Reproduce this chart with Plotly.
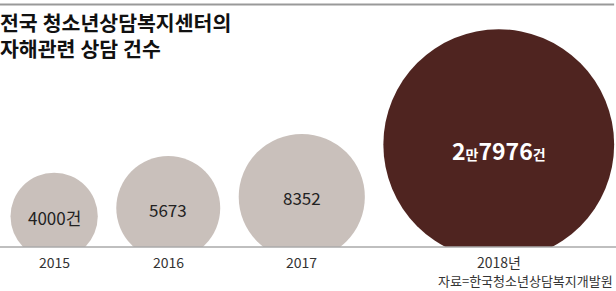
import numpy as np
import plotly.graph_objects as go

# ---- data ----
years = ["2015", "2016", "2017", "2018년"]
counts = [4000, 5673, 8352, 27976]
labels = ["4000건", "5673", "8352", "2<span style='font-size:14px'>만</span>7976<span style='font-size:14px'>건</span>"]
title_lines = ["전국 청소년상담복지센터의", "자해관련 상담 건수"]
source = "자료=한국청소년상담복지개발원"

# ---- layout constants ----
W, H = 616, 291
PLOT_H = 247          # plot area height (baseline position in px)
K = 0.69              # radius = K * sqrt(value) (area-proportional)
GAP = 18.5
LEFT = 10.5
SINK = 13             # circles sink below the baseline by this many px
FONT = "Noto Sans CJK KR"
TITLE_FONT = "Lato, Noto Sans CJK KR"
LIGHT = "#c9c0bb"
DARK = "#4f2420"

radii = [K * np.sqrt(v) for v in counts]
xs = []
for i, r in enumerate(radii):
    if i == 0:
        xs.append(LEFT + r)
    else:
        xs.append(xs[-1] + radii[i - 1] + GAP + r)
ys = [r - SINK for r in radii]  # y axis in px above baseline
colors = [LIGHT, LIGHT, LIGHT, DARK]


def py(p):
    """pixel from top -> paper y of the plot area"""
    return (PLOT_H - p) / PLOT_H


fig = go.Figure()
fig.add_trace(go.Scatter(
    x=xs, y=ys, mode="markers",
    marker=dict(size=[2 * r for r in radii], sizemode="diameter",
                color=colors, opacity=1, line=dict(width=0)),
    cliponaxis=True, hoverinfo="skip", showlegend=False,
))

annotations = []
# value labels
for i, (x, y, lab) in enumerate(zip(xs, ys, labels)):
    last = i == len(xs) - 1
    annotations.append(dict(
        x=x, y=y, xref="x", yref="y", text=lab, showarrow=False,
        xanchor="center", yanchor="middle",
        yshift=-5 if last else -1,
        font=dict(family=FONT, size=23 if last else 17,
                  color="#ffffff" if last else "#222222",
                  weight="bold" if last else "normal"),
    ))
# year labels
for x, yr in zip(xs, years):
    annotations.append(dict(
        x=x, y=py(262), xref="x", yref="paper", text=yr, showarrow=False,
        xanchor="center", yanchor="middle", borderpad=0,
        font=dict(family=FONT, size=14, color="#333333"),
    ))
# title lines
for i, t in enumerate(title_lines):
    annotations.append(dict(
        x=0, y=py(23.5 + i * 25.5), xref="paper", yref="paper", text=t,
        showarrow=False, xanchor="left", yanchor="middle", xshift=-1, borderpad=0,
        font=dict(family=TITLE_FONT, size=20.5, color="#111111", weight="bold"),
    ))
# source
annotations.append(dict(
    x=1, y=py(280), xref="paper", yref="paper", text=source, showarrow=False,
    xanchor="right", yanchor="middle", xshift=-2, borderpad=0,
    font=dict(family=FONT, size=13, color="#333333"),
))

shapes = [
    dict(type="line", xref="paper", yref="paper", x0=0, x1=1, y0=0, y1=0,
         line=dict(color="#aaaaaa", width=1.5), layer="above"),
    dict(type="line", xref="paper", yref="paper", x0=0, x1=0.997, y0=py(4.5), y1=py(4.5),
         line=dict(color="#999999", width=2)),
]

fig.update_layout(
    width=W, height=H,
    margin=dict(l=0, r=0, t=0, b=H - PLOT_H),
    paper_bgcolor="white", plot_bgcolor="white",
    xaxis=dict(range=[0, W], visible=False, fixedrange=True),
    yaxis=dict(range=[0, PLOT_H], visible=False, fixedrange=True),
    annotations=annotations, shapes=shapes,
    showlegend=False,
)

fig.write_html("out.html")
